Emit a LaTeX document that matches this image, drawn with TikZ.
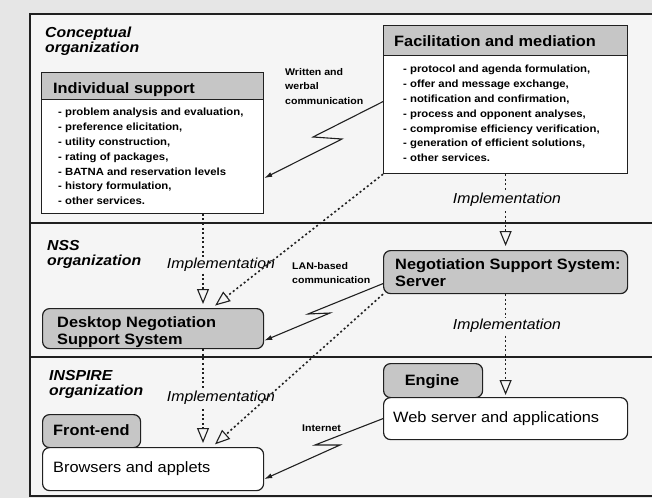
\documentclass[tikz,border=0pt]{standalone}
\usepackage{fontspec}
\setmainfont{Liberation Sans}[FakeStretch=1.09]
\usetikzlibrary{arrows.meta,calc}
\definecolor{outbg}{HTML}{E6E6E6}
\definecolor{inbg}{HTML}{F5F5F5}
\definecolor{hdgray}{HTML}{C6C6C6}
\definecolor{ink}{HTML}{202020}
\newcommand\vlines[1]{\vtop{\halign{##\hfil\cr#1\crcr}}}
\tikzset{
  frameline/.style={draw=ink,line width=1.4pt},
  sqbox/.style={draw=ink,line width=1.2pt,anchor=north west,inner sep=0pt},
  rbox/.style={draw=ink,line width=1.2pt,rounded corners=7pt,anchor=north west,inner sep=0pt},
  hdtext/.style={anchor=base west,inner sep=0pt,font=\fontsize{15}{17.5}\selectfont\bfseries},
  plaintext/.style={anchor=base west,inner sep=0pt,font=\fontsize{15}{17.5}\selectfont},
  itemtext/.style={anchor=base west,inner sep=0pt,font=\fontsize{10.4}{14.83}\selectfont\bfseries},
  seclabel/.style={anchor=base west,inner sep=0pt,font=\fontsize{14.5}{15.5}\selectfont\bfseries\itshape},
  comlabel/.style={anchor=base west,inner sep=0pt,font=\fontsize{9.7}{14.5}\selectfont\bfseries},
  implabel/.style={inner sep=1pt,fill=inbg,font=\fontsize{14.5}{16}\selectfont\itshape},
  impl/.style={draw=ink,line width=1.6pt,dash pattern=on 2pt off 2.6pt,
    -{Triangle[open,length=15pt,width=12pt,line width=1.1pt]},shorten >=4pt},
  bolt/.style={draw=ink,line width=1.1pt,-{Latex[length=8pt,width=5pt]}},
}
\begin{document}
\begin{tikzpicture}[x=1pt,y=-1pt]
\useasboundingbox (0,0) rectangle (652,498);
\fill[outbg] (0,0) rectangle (652,498);
\fill[inbg] (30,14) rectangle (652,496);
\draw[frameline] (652,14) -- (30,14) -- (30,496) -- (652,496);
\draw[frameline] (30,223) -- (652,223);
\draw[frameline] (30,357) -- (652,357);

% section labels
\node[seclabel] (secA) at (45,37) {\vlines{Conceptual\cr organization}};
\node[seclabel] (secB) at (47,250) {\vlines{NSS\cr organization}};
\node[seclabel] (secC) at (49,380) {\vlines{INSPIRE\cr organization}};

% Individual support
\node[sqbox,fill=hdgray,minimum width=222pt,minimum height=27pt] (indh) at (41,71.5) {};
\node[sqbox,fill=white,minimum width=222pt,minimum height=114pt] (ind) at (41,98.5) {};
\node[hdtext] (indt) at (53,93) {Individual support};
\node[itemtext] (indi) at (58,115.7) {\vlines{- problem analysis and evaluation,\cr
- preference elicitation,\cr
- utility construction,\cr
- rating of packages,\cr
- BATNA and reservation levels\cr
- history formulation,\cr
- other services.}};

% Facilitation and mediation
\node[sqbox,fill=hdgray,minimum width=244pt,minimum height=30pt] (fach) at (383,25) {};
\node[sqbox,fill=white,minimum width=244pt,minimum height=118pt] (fac) at (383,55) {};
\node[hdtext] (fact) at (394,46) {Facilitation and mediation};
\node[itemtext] (faci) at (403,72.7) {\vlines{- protocol and agenda formulation,\cr
- offer and message exchange,\cr
- notification and confirmation,\cr
- process and opponent analyses,\cr
- compromise efficiency verification,\cr
- generation of efficient solutions,\cr
- other services.}};

% NSS level
\node[rbox,fill=hdgray,minimum width=221pt,minimum height=40pt] (dsk) at (42,308) {};
\node[hdtext] (dskt) at (57,327) {\vlines{Desktop Negotiation\cr Support System}};
\node[rbox,fill=hdgray,minimum width=244pt,minimum height=43pt] (srv) at (383,250) {};
\node[hdtext] (srvt) at (395,269) {\vlines{Negotiation Support System:\cr Server}};

% INSPIRE level
\node[rbox,fill=hdgray,minimum width=99pt,minimum height=34pt] (eng) at (383,363) {};
\node[hdtext,anchor=base] (engt) at (432,385) {Engine};
\node[rbox,fill=white,minimum width=244pt,minimum height=42pt] (web) at (383,397) {};
\node[plaintext] (webt) at (393,422) {Web server and applications};
\node[rbox,fill=hdgray,minimum width=98pt,minimum height=33pt] (fe) at (42,414) {};
\node[hdtext] (fet) at (53,435) {Front-end};
\node[rbox,fill=white,minimum width=221pt,minimum height=43pt] (brw) at (42,447) {};
\node[plaintext] (brwt) at (53,472) {Browsers and applets};

% columns for connectors
\coordinate (lcol) at (203,0);
\coordinate (dcol) at (212,0);

% implementation connectors
\draw[impl] (ind.south -| lcol) -- (dsk.north -| lcol);
\draw[impl] (fac.south) -- (fac.south |- srv.north);
\draw[impl,shorten >=2pt] (srv.south) -- (srv.south |- web.north);
\draw[impl] (dsk.south -| lcol) -- (brw.north -| lcol);
\node[implabel] (im1) at (221,265) {Implementation};
\node[implabel] (im2) at (507,200) {Implementation};
\node[implabel] (im3) at (507,326) {Implementation};
\node[implabel] (im4) at (221,398) {Implementation};
\draw[impl] (fac.south west) -- (dsk.north -| dcol);
\draw[impl] (srv.south west) -- (brw.north -| dcol);

% communication connectors
\node[comlabel] (wlab) at (285,75) {\vlines{Written and\cr werbal\cr communication}};
\draw[bolt] ($(fac.west)+(0,-13)$) -- (313,137) -- (342,139) -- ($(ind.east)+(0,22)$);
\node[comlabel] (llab) at (292,269) {\vlines{LAN-based\cr communication}};
\draw[bolt] ($(srv.west)+(0,11.5)$) -- (308,314) -- (330,313) -- ($(dsk.east)+(0,12)$);
\node[comlabel] (ilab) at (302,431) {Internet};
\draw[bolt] (web.west) -- (315,445) -- (340,445) -- ($(brw.east)+(0,10)$);
\end{tikzpicture}
\end{document}
